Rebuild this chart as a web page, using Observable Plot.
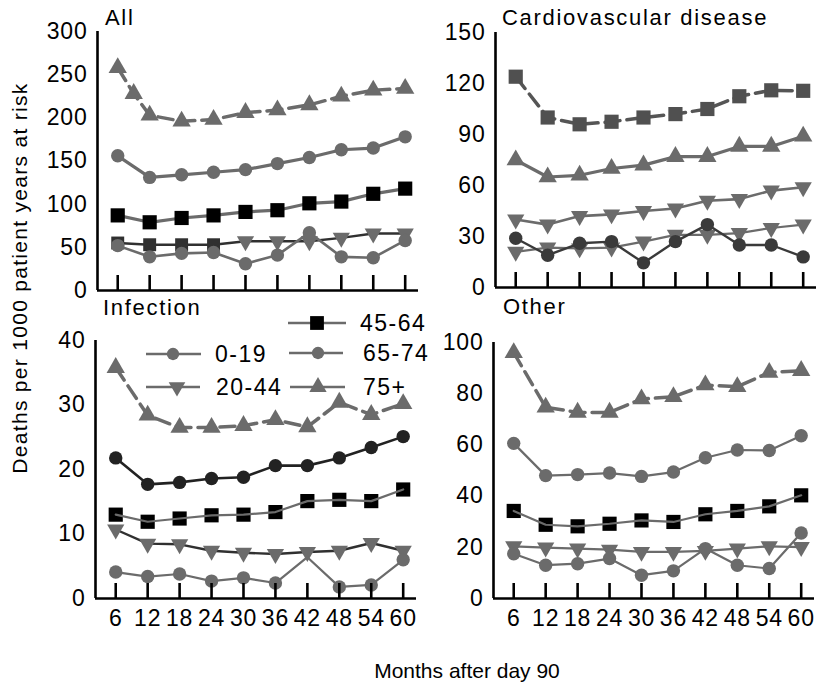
<!DOCTYPE html>
<html><head><meta charset="utf-8">
<script src="https://cdn.jsdelivr.net/npm/d3@7"></script>
<script src="https://cdn.jsdelivr.net/npm/@observablehq/plot@0.6"></script>
<style>
body{margin:0;background:#fff;}
#root{position:relative;width:822px;height:685px;overflow:hidden;font-family:"Liberation Sans",Arial,sans-serif;}
.panel{position:absolute;}
#overlay{position:absolute;left:0;top:0;pointer-events:none;}
</style></head><body><div id="root"></div>
<script>
// ---------- data ----------
const months = [6, 12, 18, 24, 30, 36, 42, 48, 54, 60];
const monthsAll75 = [6, 9, 12, 18, 24, 30, 36, 42, 48, 54, 60];
const ageGroups = ["0-19", "20-44", "45-64", "65-74", "75+"];
const panelTitles = ["All", "Cardiovascular disease", "Infection", "Other"];

const yTicksAll = [0, 50, 100, 150, 200, 250, 300];
const yTicksCvd = [0, 30, 60, 90, 120, 150];
const yTicksInf = [0, 10, 20, 30, 40];
const yTicksOth = [0, 20, 40, 60, 80, 100];

// All
const all_75   = [258, 228, 203, 196, 198, 206, 209, 215, 225, 232, 234];
const all_6574 = [156, 131, 134, 137, 140, 147, 154, 163, 165, 178];
const all_4564 = [87, 79, 84, 87, 91, 93, 101, 103, 112, 118];
const all_2044 = [55, 53, 53, 53, 57, 57, 57, 61, 66, 66];
const all_019  = [52, 39, 43, 44, 31, 41, 67, 39, 38, 58];
// Cardiovascular disease
const cvd_75   = [124, 100, 96, 97.5, 100, 102, 105, 112.5, 116, 115.7];
const cvd_6574 = [75, 65, 66, 70, 72, 77, 77, 83, 83, 89];
const cvd_4564 = [40, 37, 42, 43, 45, 46.5, 51, 52, 57, 59];
const cvd_2044 = [21, 23.5, 23, 23.5, 27, 31, 31, 32, 35, 37];
const cvd_019  = [29, 19, 26, 27, 14.5, 27, 37, 25, 25, 18];
// Infection
const inf_75   = [35.8, 28.4, 26.5, 26.5, 26.8, 27.7, 26.6, 30.4, 28.5, 30.2];
const inf_6574 = [21.8, 17.7, 18.0, 18.6, 18.8, 20.6, 20.6, 21.8, 23.4, 25.1];
const inf_4564 = [13.0, 11.9, 12.4, 12.9, 13.0, 13.4, 15.1, 15.3, 15.1, 16.9];
const inf_2044 = [10.7, 8.5, 8.4, 7.4, 7.1, 6.9, 7.2, 7.4, 8.6, 7.4];
const inf_019  = [4.1, 3.4, 3.8, 2.7, 3.2, 2.4, 6.4, 1.8, 2.1, 6.0];
// Other
const oth_75   = [96, 74.7, 72.7, 72.7, 77.9, 78.8, 83.4, 82.7, 88.3, 89];
const oth_6574 = [60.6, 48, 48.4, 49, 47.7, 49.4, 55, 58, 57.8, 63.6];
const oth_4564 = [34.2, 28.8, 28.2, 29.2, 30.5, 29.9, 32.9, 34.2, 36, 40.3];
const oth_2044 = [20.4, 19.9, 19.5, 19.1, 18.2, 18.2, 18.6, 19.5, 20.4, 20.1];
const oth_019  = [17.5, 13, 13.6, 15.6, 9.1, 10.8, 19.5, 13, 11.7, 25.6];

// ---------- styles ----------
const GRAY = "#6b6b6b", MID = "#555", DARK = "#303030", BLACK = "#000";
const FONT = '"Liberation Sans", Arial, sans-serif';
const dashLine  = {stroke: GRAY, width: 3.5, dash: "15,7"};
const dashDark  = {stroke: MID, width: 3.5, dash: "15,7"};
const thickGray = {stroke: GRAY, width: 3.2};
const midGray   = {stroke: GRAY, width: 2.6};
const thinGray  = {stroke: GRAY, width: 2.2};
const darkLine  = {stroke: DARK, width: 2.4};
const triUp   = {symbol: "triangle", r: 6.8, fill: GRAY, rotate: 0};
const triDown = {symbol: "triangle", r: 6.4, fill: GRAY, rotate: 180};
const circGray = {symbol: "circle", r: 6.7, fill: GRAY};
const circDark = {symbol: "circle", r: 6.7, fill: "#3a3a3a"};
const circBlack = {symbol: "circle", r: 6.7, fill: "#222"};
const sqBlack = {symbol: "square", r: 8, fill: BLACK};
const sqDark  = {symbol: "square", r: 7.3, fill: DARK};
const sqMid   = {symbol: "square", r: 8, fill: "#505050"};

const xDomain = [2.2, 62.5];

const panels = [
  {title: panelTitles[0], left: 0, top: 0, height: 300, mL: 97, mT: 31, mB: 10, yDomain: [0, 300], yTicks: yTicksAll, xLabels: false,
   series: [
     {age: "75+", x: monthsAll75, y: all_75, line: dashLine, mark: triUp},
     {age: "65-74", x: months, y: all_6574, line: thickGray, mark: circGray},
     {age: "45-64", x: months, y: all_4564, line: thickGray, mark: sqBlack},
     {age: "20-44", x: months, y: all_2044, line: darkLine, mark: i => i < 4 ? sqDark : triDown},
     {age: "0-19", x: months, y: all_019, line: midGray, mark: circGray}]},
  {title: panelTitles[1], left: 400, top: 0, height: 300, mL: 95, mT: 32, mB: 13, yDomain: [0, 150], yTicks: yTicksCvd, xLabels: false,
   series: [
     {age: "75+", x: months, y: cvd_75, line: dashDark, mark: sqMid},
     {age: "65-74", x: months, y: cvd_6574, line: thickGray, mark: triUp},
     {age: "45-64", x: months, y: cvd_4564, line: midGray, mark: triDown},
     {age: "20-44", x: months, y: cvd_2044, line: thinGray, mark: triDown},
     {age: "0-19", x: months, y: cvd_019, line: {stroke: "#3a3a3a", width: 2.4}, mark: circDark}]},
  {title: panelTitles[2], left: 0, top: 300, height: 340, mL: 95, mT: 40, mB: 42, yDomain: [0, 40], yTicks: yTicksInf, xLabels: true,
   series: [
     {age: "75+", x: months, y: inf_75, line: dashLine, mark: triUp},
     {age: "65-74", x: months, y: inf_6574, line: {stroke: "#222", width: 2.6}, mark: circBlack},
     {age: "45-64", x: months, y: inf_4564, line: thinGray, mark: sqBlack, lineOver: true},
     {age: "20-44", x: months, y: inf_2044, line: darkLine, mark: triDown},
     {age: "0-19", x: months, y: inf_019, line: thinGray, mark: i => i === 6 ? null : circGray}]},
  {title: panelTitles[3], left: 400, top: 300, height: 340, mL: 93, mT: 42, mB: 42, yDomain: [0, 100], yTicks: yTicksOth, xLabels: true,
   series: [
     {age: "75+", x: months, y: oth_75, line: dashLine, mark: triUp},
     {age: "65-74", x: months, y: oth_6574, line: thinGray, mark: circGray},
     {age: "45-64", x: months, y: oth_4564, line: thinGray, mark: sqBlack, lineOver: true},
     {age: "20-44", x: months, y: oth_2044, line: thinGray, mark: triDown},
     {age: "0-19", x: months, y: oth_019, line: thinGray, mark: circGray}]}
];

function seriesMarks(s) {
  const rows = s.x.map((x, i) => ({x, y: s.y[i], i, age: s.age}));
  const line = Plot.line(rows, {x: "x", y: "y", stroke: s.line.stroke, strokeWidth: s.line.width,
    strokeDasharray: s.line.dash || null, strokeLinejoin: "round"});
  const specFor = typeof s.mark === "function" ? s.mark : () => s.mark;
  const groups = d3.group(rows, d => specFor(d.i));
  const dots = [];
  for (const [spec, g] of groups) {
    if (!spec) continue;
    dots.push(Plot.dot(g, {x: "x", y: "y", symbol: spec.symbol, r: spec.r, fill: spec.fill,
      rotate: spec.rotate || 0, stroke: "none"}));
  }
  return s.lineOver ? [...dots, line] : [line, ...dots];
}

const root = document.getElementById("root");
const plotW = 321;

for (const p of panels) {
  const marks = [];
  for (const s of p.series) marks.push(...seriesMarks(s));
  marks.push(
    Plot.ruleX([xDomain[0]], {stroke: BLACK, strokeWidth: 2.6}),
    Plot.ruleY([0], {stroke: BLACK, strokeWidth: 2.6}),
    Plot.axisY({ticks: p.yTicks, tickSize: 0, tickPadding: 10, label: null, fill: BLACK}),
    Plot.axisX({ticks: months, tickSize: 15, dy: -15, strokeWidth: 2.6, stroke: BLACK, fill: "none", tickFormat: () => "", label: null})
  );
  if (p.xLabels) marks.push(Plot.axisX({ticks: months, tickSize: 0, tickPadding: 11, label: null, fill: BLACK}));
  const chart = Plot.plot({
    width: p.mL + plotW, height: p.height,
    marginLeft: p.mL, marginRight: 0, marginTop: p.mT, marginBottom: p.mB,
    x: {domain: xDomain, label: null},
    y: {domain: p.yDomain, label: null},
    style: {fontFamily: FONT, fontSize: "23px", color: BLACK, background: "transparent", overflow: "visible", letterSpacing: "0.8px"},
    marks
  });
  const div = document.createElement("div");
  div.className = "panel";
  div.style.left = p.left + "px";
  div.style.top = p.top + "px";
  div.appendChild(chart);
  root.appendChild(div);
}

// ---------- overlay: titles, axis titles, legend ----------
const svg = d3.select(root).append("svg").attr("id", "overlay")
  .attr("width", 822).attr("height", 685)
  .style("font-family", FONT);

const titlePos = [[105, 25], [502, 25], [103, 315], [503, 314]];
panelTitles.forEach((t, i) => {
  svg.append("text").attr("x", titlePos[i][0]).attr("y", titlePos[i][1])
    .attr("font-size", 22).style("letter-spacing", "1.7px").attr("fill", BLACK).text(t);
});

svg.append("text").attr("transform", "translate(27,278) rotate(-90)")
  .attr("text-anchor", "middle").attr("font-size", 21).style("letter-spacing", "1.3px")
  .attr("fill", BLACK).text("Deaths per 1000 patient years at risk");

svg.append("text").attr("x", 467).attr("y", 678).attr("text-anchor", "middle")
  .attr("font-size", 21).attr("fill", BLACK).text("Months after day 90");

const legendItems = [
  {label: ageGroups[2], sym: d3.symbolSquare, size: 190, fill: BLACK, rot: 0, x1: 288, x2: 346, y: 323, mx: 317, tx: 360},
  {label: ageGroups[0], sym: d3.symbolCircle, size: 120, fill: GRAY, rot: 0, x1: 146, x2: 201, y: 354, mx: 173, tx: 215},
  {label: ageGroups[3], sym: d3.symbolCircle, size: 120, fill: GRAY, rot: 0, x1: 289, x2: 343, y: 353, mx: 318, tx: 363},
  {label: ageGroups[1], sym: d3.symbolTriangle, size: 120, fill: GRAY, rot: 180, x1: 146, x2: 200, y: 387, mx: 177, tx: 216},
  {label: ageGroups[4], sym: d3.symbolTriangle, size: 130, fill: GRAY, rot: 0, x1: 290, x2: 345, y: 387, mx: 318, tx: 363}
];
for (const it of legendItems) {
  svg.append("line").attr("x1", it.x1).attr("x2", it.x2).attr("y1", it.y).attr("y2", it.y)
    .attr("stroke", GRAY).attr("stroke-width", 2.6);
  svg.append("path").attr("d", d3.symbol(it.sym, it.size)())
    .attr("transform", `translate(${it.mx},${it.y}) rotate(${it.rot})`).attr("fill", it.fill);
  svg.append("text").attr("x", it.tx).attr("y", it.y).attr("dy", "0.36em")
    .attr("font-size", 23).style("letter-spacing", "1.5px").attr("fill", BLACK).text(it.label);
}
</script></body></html>
